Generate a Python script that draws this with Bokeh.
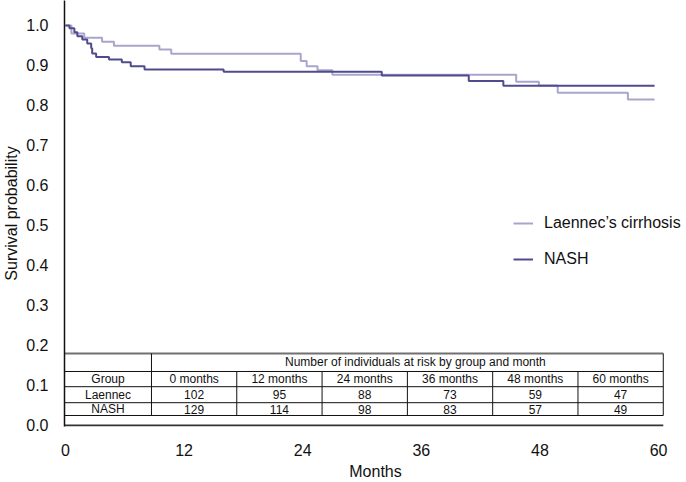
from bokeh.plotting import figure
from bokeh.models import (Range1d, FixedTicker, PrintfTickFormatter, Legend,
                          LegendItem, ColumnDataSource)
from bokeh.core.properties import value
from bokeh.embed import file_html
from bokeh.resources import INLINE

# ---------------- data ----------------
months_laennec = [0, 0.6, 1.9, 3.7, 4.9, 9.5, 10.7, 23.8, 24.4, 25.5, 27.0,
                  45.6, 47.9, 49.8, 56.9, 59.6]
surv_laennec = [1.0, 0.980, 0.969, 0.959, 0.949, 0.940, 0.929, 0.911, 0.898,
                0.888, 0.877, 0.859, 0.850, 0.832, 0.815, 0.815]

months_nash = [0, 0.4, 0.9, 1.2, 1.7, 2.2, 2.6, 2.7, 3.1, 4.4, 5.7, 6.6, 8.0,
               16.0, 32.0, 40.8, 44.3, 59.6]
surv_nash = [1.0, 0.993, 0.983, 0.973, 0.965, 0.955, 0.943, 0.930, 0.921,
             0.915, 0.908, 0.898, 0.890, 0.884, 0.875, 0.861, 0.849, 0.849]

x_ticks = [0, 12, 24, 36, 48, 60]
y_ticks = [0.0, 0.1, 0.2, 0.3, 0.4, 0.5, 0.6, 0.7, 0.8, 0.9, 1.0]

table_title = "Number of individuals at risk by group and month"
risk_headers = ["0 months", "12 months", "24 months", "36 months",
                "48 months", "60 months"]
risk_groups = ["Laennec", "NASH"]
risk_laennec = [102, 95, 88, 73, 59, 47]
risk_nash = [129, 114, 98, 83, 57, 49]

series_labels = ["Laennec\u2019s cirrhosis", "NASH"]

# ---------------- style ----------------
FONT = "Liberation Sans"
C_LIGHT = "#a9a5cd"
C_DARK = "#504b8d"
TXT = "#111111"

p = figure(width=686, height=482, output_backend="svg", toolbar_location=None,
           x_range=Range1d(-0.1, 62.83), y_range=Range1d(-0.0025, 1.0623),
           min_border_left=63, min_border_right=0, min_border_top=0,
           min_border_bottom=55)
p.outline_line_color = None
p.xgrid.visible = False
p.ygrid.visible = False
p.background_fill_color = "white"

# axes
xa = p.xaxis[0]
xa.ticker = FixedTicker(ticks=x_ticks)
xa.axis_line_color = None
xa.major_tick_line_color = None
xa.minor_tick_line_color = None
xa.major_label_standoff = 11
xa.major_label_text_font = FONT
xa.major_label_text_font_size = "16px"
xa.major_label_text_color = TXT
xa.axis_label = "Months"
xa.axis_label_text_font = FONT
xa.axis_label_text_font_size = "16px"
xa.axis_label_text_font_style = "normal"
xa.axis_label_text_color = TXT
xa.axis_label_standoff = 4

ya = p.yaxis[0]
ya.ticker = FixedTicker(ticks=y_ticks)
ya.formatter = PrintfTickFormatter(format="%.1f")
ya.axis_line_color = "#111111"
ya.axis_line_width = 1.5
ya.major_tick_line_color = None
ya.minor_tick_line_color = None
ya.major_label_standoff = 10
ya.major_label_text_font = FONT
ya.major_label_text_font_size = "16px"
ya.major_label_text_color = TXT
ya.axis_label = "Survival probability"
ya.axis_label_text_font = FONT
ya.axis_label_text_font_size = "16px"
ya.axis_label_text_font_style = "normal"
ya.axis_label_text_color = TXT
ya.axis_label_standoff = 3

# ---------------- risk table (layout constants) ----------------
X0 = -0.1
COL1 = 8.7
COLW = 8.63
X1 = COL1 + COLW * len(risk_headers)
Y_TOP, Y_R1, Y_R2, Y_R3, Y_BOT = 0.18, 0.135, 0.097, 0.057, 0.025

# x axis line (drawn so it stops at the table's edge)
p.segment(x0=[X0], y0=[0], x1=[X1], y1=[0], line_color="#333333", line_width=2)

p.segment(x0=[X0], y0=[Y_TOP], x1=[X1], y1=[Y_TOP], line_color="#707070",
          line_width=2)
hy = [Y_R1, Y_R2, Y_R3, Y_BOT]
p.segment(x0=[X0] * 4, y0=hy, x1=[X1] * 4, y1=hy, line_color="#111111",
          line_width=1)
vx_full = [COL1, X1]
p.segment(x0=vx_full, y0=[Y_BOT] * 2, x1=vx_full, y1=[Y_TOP] * 2,
          line_color="#111111", line_width=1)
vx = [COL1 + COLW * k for k in range(1, len(risk_headers))]
p.segment(x0=vx, y0=[Y_BOT] * len(vx), x1=vx, y1=[Y_R1] * len(vx),
          line_color="#111111", line_width=1)

col_centers = [COL1 + COLW * (k + 0.5) for k in range(len(risk_headers))]
gx = (X0 + COL1) / 2
yc_head = (Y_R1 + Y_R2) / 2
yc_l = (Y_R2 + Y_R3) / 2
yc_n = (Y_R3 + Y_BOT) / 2

tx, ty, tt = [], [], []
tx.append(35.4); ty.append((Y_TOP + Y_R1) / 2); tt.append(table_title)
tx.append(gx); ty.append(yc_head); tt.append("Group")
for xc, h in zip(col_centers, risk_headers):
    tx.append(xc); ty.append(yc_head); tt.append(h)
tx.append(gx); ty.append(yc_l); tt.append(risk_groups[0])
for xc, v in zip(col_centers, risk_laennec):
    tx.append(xc); ty.append(yc_l); tt.append(str(v))
tx.append(gx); ty.append(yc_n); tt.append(risk_groups[1])
for xc, v in zip(col_centers, risk_nash):
    tx.append(xc); ty.append(yc_n); tt.append(str(v))

tsrc = ColumnDataSource(dict(x=tx, y=ty, t=tt))
p.text(x="x", y="y", text="t", source=tsrc, text_font=value(FONT),
       text_font_size="12px", text_align="center", text_baseline="middle",
       text_color=TXT)

# ---------------- survival curves ----------------
r_l = p.step(months_laennec, surv_laennec, mode="after", line_color=C_LIGHT,
             line_width=2)
r_n = p.step(months_nash, surv_nash, mode="after", line_color=C_DARK,
             line_width=2)

legend = Legend(items=[LegendItem(label=series_labels[0], renderers=[r_l]),
                       LegendItem(label=series_labels[1], renderers=[r_n])],
                location=(449, 157))
legend.label_text_font = FONT
legend.label_text_font_size = "16px"
legend.label_text_color = TXT
legend.glyph_width = 20
legend.glyph_height = 20
legend.label_height = 20
legend.spacing = 16
legend.padding = 0
legend.margin = 0
legend.label_standoff = 11
legend.border_line_color = None
legend.background_fill_alpha = 0
p.add_layout(legend)

open("out.html", "w").write(file_html(p, INLINE))
